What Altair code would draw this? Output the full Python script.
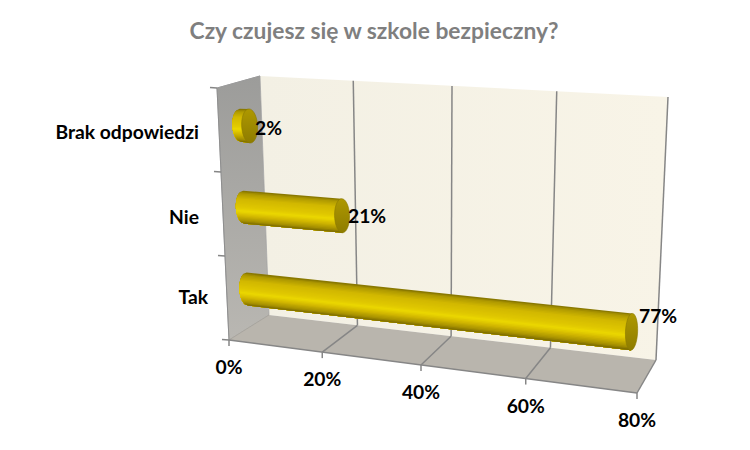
import math
import altair as alt
import pandas as pd

TITLE = "Czy czujesz się w szkole bezpieczny?"
categories = ["Tak", "Nie", "Brak odpowiedzi"]
values = [77, 21, 2]
value_labels = ["77%", "21%", "2%"]
ticks = [0, 20, 40, 60, 80]
tick_labels = ["0%", "20%", "40%", "60%", "80%"]

# 3D box corners of the plot as seen on screen
FBL, FBR = (229, 340), (637, 393)
BBL, BBR = (269, 315), (656, 360)
FTL, FTR = (217, 88), (649, 110)
BTL, BTR = (260, 76), (668, 97)
VMAX = 80.0
PERSP = 1.125
FONT = "Lato"


def lerp(a, b, t):
    return (a[0] + (b[0] - a[0]) * t, a[1] + (b[1] - a[1]) * t)


def proj(v, h, d):
    u = v / VMAX
    f = u / (u + PERSP * (1 - u)) if u > 0 else 0.0
    bottom = lerp(lerp(FBL, FBR, f), lerp(BBL, BBR, f), d)
    top = lerp(lerp(FTL, FTR, f), lerp(BTL, BTR, f), d)
    return lerp(bottom, top, h)


X = alt.Scale(domain=[8, 742], range=[0, 734], nice=False, zero=False)
Y = alt.Scale(domain=[8, 442], range=[0, 434], nice=False, zero=False)


def xy(chart):
    return chart.encode(
        x=alt.X("x:Q", scale=X, axis=None),
        y=alt.Y("y:Q", scale=Y, axis=None),
    )


def poly(pts, fill, edge=None, sw=0.7):
    df = pd.DataFrame({"x": [p[0] for p in pts], "y": [p[1] for p in pts], "i": range(len(pts))})
    m = alt.Chart(df).mark_line(
        interpolate="linear-closed", fill=fill, stroke=edge if edge else "transparent",
        strokeWidth=sw if edge else 0,
    )
    return xy(m).encode(order="i:Q")


def seg(a, b, color="#868686", w=1.5):
    df = pd.DataFrame({"x": [a[0], b[0]], "y": [a[1], b[1]], "i": [0, 1]})
    return xy(alt.Chart(df).mark_line(color=color, strokeWidth=w)).encode(order="i:Q")


def label(text, pos, size=19.3, color="black", align="center"):
    df = pd.DataFrame({"x": [pos[0]], "y": [pos[1]], "t": [text]})
    return xy(alt.Chart(df).mark_text(
        font=FONT, fontWeight="bold", fontSize=size, color=color, align=align, baseline="middle"
    )).encode(text="t:N")


def grad(c1, c2, x2=0, y2=1):
    return alt.LinearGradient(
        gradient="linear", x1=0, y1=0, x2=x2, y2=y2,
        stops=[alt.GradientStop(offset=0, color=c1), alt.GradientStop(offset=1, color=c2)],
    )


layers = []
# walls and floor
layers.append(poly([BTL, BTR, BBR, BBL], grad("#f3f0e4", "#f8f4e7", 1, 0)))
layers.append(poly([FTL, BTL, BBL, FBL], grad("#9c9c9a", "#b9b7b2"), "#a0a0a0"))
layers.append(poly([BBL, BBR, FBR, FBL], "#b9b5ad"))

# grid on the back wall and floor
for t in ticks[1:]:
    layers.append(seg(proj(t, 1, 1), proj(t, 0, 1)))
    layers.append(seg(proj(t, 0, 1), proj(t, 0, 0)))
    layers.append(seg(proj(t, 0, 0), (proj(t, 0, 0)[0], proj(t, 0, 0)[1] + 6)))
layers.append(seg(FBL, (FBL[0], FBL[1] + 6)))
layers.append(seg(FBL, BBL, "#a8a59e", 1))
layers.append(seg(FBL, FBR))
layers.append(seg(FTL, FBL, "#8e8e8e", 1))
layers.append(seg(FTL, BTL, "#9a9a9a", 1))
for k in range(4):
    p = proj(0, k / 3, 0)
    layers.append(seg((p[0] - 7, p[1] - 0.5), p))

# cylinders
shade = [(-1, "#7d6e00"), (-0.85, "#ae9800"), (-0.5, "#d2b800"), (0, "#e0c800"),
         (0.22, "#ecd800"), (0.5, "#d2b700"), (0.8, "#a89200"), (1, "#786800")]


def shade_at(s):
    for (a, ca), (b, cb) in zip(shade, shade[1:]):
        if s <= b:
            t = (s - a) / (b - a)
            rgb = [round(int(ca[i:i + 2], 16) + (int(cb[i:i + 2], 16) - int(ca[i:i + 2], 16)) * t)
                   for i in (1, 3, 5)]
            return "#%02x%02x%02x" % tuple(rgb)
    return shade[-1][1]


N = 26
for row, v in enumerate(values):
    h = (row + 0.5) / 3 - 0.01
    c0 = proj(0, h, 0.5)
    c1 = proj(v, h, 0.5)
    # section axis follows the perspective of the vertical edges
    tilt0 = (proj(0, 1, 0.5)[0] - proj(0, 0, 0.5)[0]) / (proj(0, 1, 0.5)[1] - proj(0, 0, 0.5)[1])
    tilt1 = (proj(v, 1, 0.5)[0] - proj(v, 0, 0.5)[0]) / (proj(v, 1, 0.5)[1] - proj(v, 0, 0.5)[1])
    r0 = 16.5
    r1 = 16.5 + 2.0 * v / VMAX + (0.5 if v < 10 else 0)
    rx0 = 8.0
    rx1 = 8.0 - 2.0 * v / VMAX

    def rim(c, r, tilt, s):
        dy = s * r
        return (c[0] + dy * tilt, c[1] + dy)

    # painter's order: each band runs from its top edge down to the bottom,
    # so that the next band covers it without hairline gaps
    for j in range(N):
        s1 = -1 + 2 * j / N
        s2 = -1 + 2 * (j + 1) / N
        col = shade_at((s1 + s2) / 2)
        left = []
        for k in range(N - j + 1):
            s = s1 + (1 - s1) * k / (N - j)
            p = rim(c0, r0, tilt0, s)
            left.append((p[0] - rx0 * math.sqrt(max(0, 1 - s * s)), p[1]))
        pts = left + [rim(c1, r1, tilt1, 1), rim(c1, r1, tilt1, s1)]
        layers.append(poly(pts, col))
    # end cap
    cap = []
    for k in range(36):
        th = 2 * math.pi * k / 36
        s = math.sin(th)
        p = rim(c1, r1, tilt1, s)
        cap.append((p[0] + rx1 * math.cos(th), p[1]))
    layers.append(poly(cap, grad("#ae9800", "#8e7c00"), "#8a7800", 0.6))

# text
layers.append(label(TITLE, (374, 32), size=22.8, color="#7f7f7f"))
for t, s in zip(ticks, tick_labels):
    p = proj(t, 0, 0)
    layers.append(label(s, (p[0], p[1] + 28)))

category_pos = [(208, 298), (199, 218), (199, 133)]
for c, pos in zip(categories, category_pos):
    layers.append(label(c, pos, align="right"))

value_pos = [(639, 317), (348, 217), (255, 129)]
for s, pos in zip(value_labels, value_pos):
    layers.append(label(s, pos, align="left"))

chart = alt.layer(*layers).properties(
    width=734, height=434, padding=0, background="white",
    autosize=alt.AutoSizeParams(type="none"),
).configure_view(stroke=None)

chart.save("out.html", embed_options={"renderer": "svg", "actions": False})
